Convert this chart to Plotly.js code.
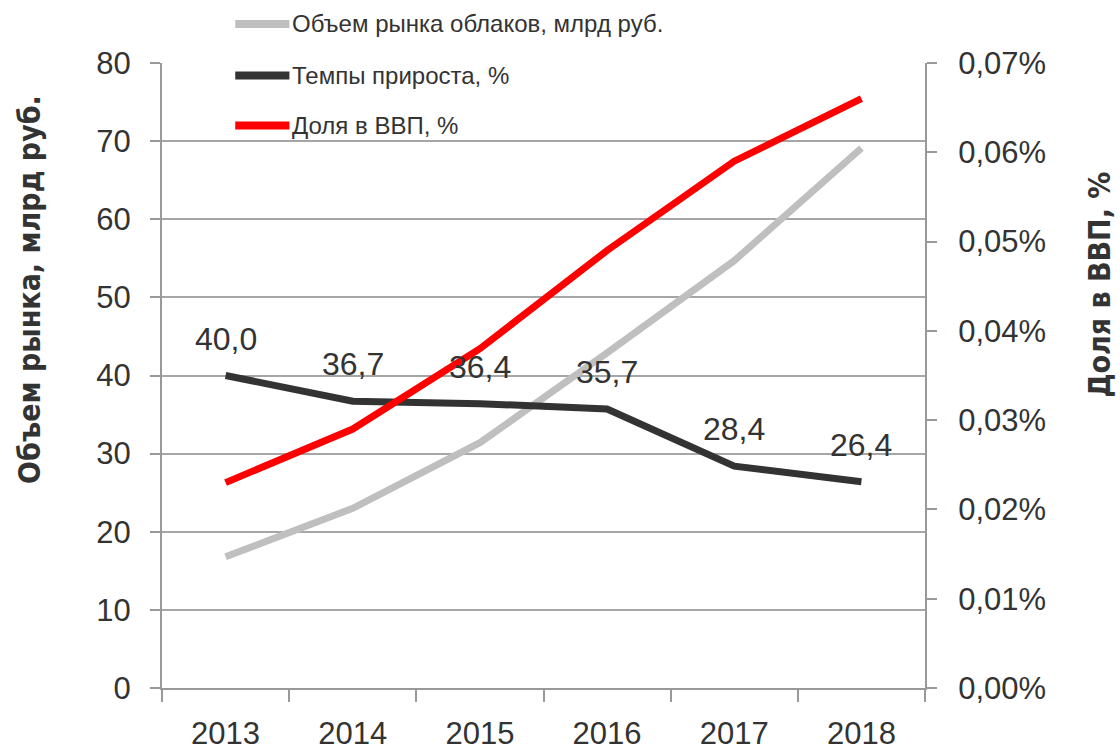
<!DOCTYPE html>
<html><head><meta charset="utf-8">
<script src="https://cdn.plot.ly/plotly-3.0.1.min.js"></script>
<style>html,body{margin:0;padding:0;background:#fff}</style>
</head><body><div id="chart" style="width:1120px;height:750px"></div>
<script>
const years = ['2013', '2014', '2015', '2016', '2017', '2018'];
const marketVolume = [16.8, 23.0, 31.4, 42.9, 54.7, 69.1];
const growthRate = [40.0, 36.7, 36.4, 35.7, 28.4, 26.4];
const gdpShare = [0.023, 0.029, 0.038, 0.049, 0.059, 0.066];
const seriesNames = ['Объем рынка облаков, млрд руб.', 'Темпы прироста, %', 'Доля в ВВП, %'];
const seriesColors = ['#BFBFBF', '#333333', '#FF0000'];
const leftTitle = 'Объем рынка, млрд руб.';
const rightTitle = 'Доля в ВВП, %';
const leftTicks = [0, 10, 20, 30, 40, 50, 60, 70, 80];
const rightTicks = [0, 0.01, 0.02, 0.03, 0.04, 0.05, 0.06, 0.07];

const COND = "'DejaVu Sans Condensed', 'Liberation Sans Narrow', sans-serif";
const REG = "'Liberation Sans', Arial, sans-serif";
const TXT = '#333333';
const fmt = (v, d) => v.toFixed(d).replace('.', ',');

const lineStyle = (c) => ({color: c, width: 7, shape: 'linear'});
const traces = [
  {x: years, y: marketVolume, name: seriesNames[0], type: 'scatter', mode: 'lines', line: lineStyle(seriesColors[0]), yaxis: 'y', showlegend: false},
  {x: years, y: growthRate, name: seriesNames[1], type: 'scatter', mode: 'lines', line: lineStyle(seriesColors[1]), yaxis: 'y', showlegend: false},
  {x: years, y: gdpShare, name: seriesNames[2], type: 'scatter', mode: 'lines', line: lineStyle(seriesColors[2]), yaxis: 'y2', showlegend: false}
];

const annotations = growthRate.map((v, i) => ({
  x: i, y: v, xref: 'x', yref: 'y', text: fmt(v, 1), showarrow: false,
  xanchor: 'center', yanchor: 'bottom', yshift: 17, font: {family: REG, size: 32, color: TXT}
}));

// custom legend
const legendY = [1.0624, 0.98, 0.9];
const shapes = [];
seriesNames.forEach((n, i) => {
  shapes.push({type: 'line', xref: 'paper', yref: 'paper', x0: 0.096, x1: 0.167, y0: legendY[i], y1: legendY[i],
    line: {color: seriesColors[i], width: 8}});
  annotations.push({xref: 'paper', yref: 'paper', x: 0.168, y: legendY[i], xanchor: 'left', yanchor: 'middle',
    text: n, showarrow: false, font: {family: REG, size: 24, color: TXT}});
});

annotations.push({xref: 'paper', yref: 'paper', x: -0.173, y: 0.637, text: '<b>' + leftTitle + '</b>', textangle: -90,
  showarrow: false, xanchor: 'center', yanchor: 'middle', font: {family: COND, size: 30, color: TXT}});
annotations.push({xref: 'paper', yref: 'paper', x: 1.229, y: 0.645, text: '<b>' + rightTitle + '</b>', textangle: -90,
  showarrow: false, xanchor: 'center', yanchor: 'middle', font: {family: COND, size: 30, color: TXT}});

const layout = {
  width: 1120, height: 750,
  margin: {l: 162, r: 195, t: 63, b: 62},
  paper_bgcolor: '#fff', plot_bgcolor: '#fff',
  separators: ', ',
  showlegend: false,
  xaxis: {
    type: 'category', range: [-0.5, 5.5], tickson: 'boundaries', ticks: 'outside', ticklen: 12, tickcolor: '#999', tickwidth: 2,
    showline: true, linecolor: '#999', linewidth: 2, showgrid: false, zeroline: false,
    tickfont: {family: REG, size: 31, color: TXT}, ticklabelstandoff: 17, fixedrange: true
  },
  yaxis: {
    range: [0, 80], tickvals: leftTicks, ticktext: leftTicks.map(String), ticks: 'outside', ticklen: 10, tickcolor: '#999', tickwidth: 2,
    showline: true, linecolor: '#999', linewidth: 2, showgrid: true, gridcolor: '#A6A6A6', gridwidth: 2, zeroline: false,
    tickfont: {family: REG, size: 31, color: TXT}, ticklabelstandoff: 13
  },
  yaxis2: {
    range: [0, 0.07], overlaying: 'y', side: 'right', tickvals: rightTicks, ticktext: rightTicks.map(v => fmt(v, 2) + '%'),
    ticks: 'outside', ticklen: 10, tickcolor: '#999', tickwidth: 2,
    showline: true, linecolor: '#999', linewidth: 2, showgrid: false, zeroline: false,
    tickfont: {family: REG, size: 31, color: TXT}, ticklabelstandoff: 15
  },
  annotations: annotations,
  shapes: shapes
};

Plotly.newPlot('chart', traces, layout, {displayModeBar: false, staticPlot: true});
</script></body></html>
